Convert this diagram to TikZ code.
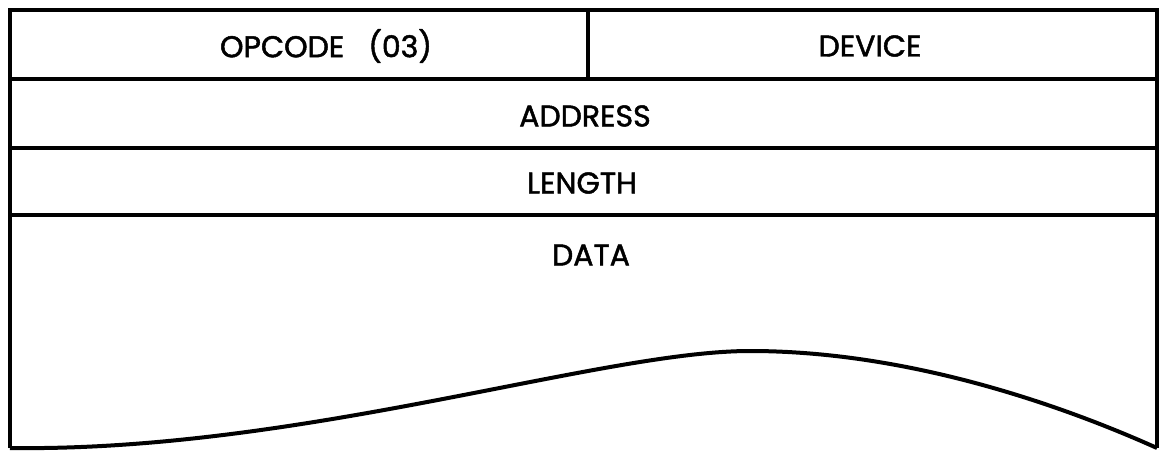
\documentclass[tikz,border=0pt]{standalone}
\usepackage{fontspec}
\setmainfont[FakeBold=1.6]{Poppins}
\usetikzlibrary{positioning}

\tikzset{
    field/.style={font=\fontsize{30}{33}\selectfont, inner sep=0pt},
    rule/.style={line width=3.5pt}
}

\begin{document}
\begin{tikzpicture}[x=1pt, y=-1pt]

    \useasboundingbox (0,0) rectangle (1160,452);

    % Outer frame
    \draw[rule, line join=miter] (10,448) -- (10,10) -- (1157,10) -- (1157,448);

    % Row dividers
    \draw[rule] (10,79) -- (1157,79);
    \draw[rule] (10,148) -- (1157,148);
    \draw[rule] (10,215) -- (1157,215);

    % Divider in the top row
    \draw[rule] (588,10) -- (588,79);

    % Torn bottom edge of the data area
    \draw[rule, line width=4pt] (10,448) .. controls (300,452) and (600,351) .. (750,351)
        .. controls (900,351) and (1050,400) .. (1157,448);

    % Field labels
    \node[field] (opcode) at (326,46) {OPCODE\hspace{0.8em}(03)};
    \node[field] (device) at (870,46) {DEVICE};
    \node[field] (address) at (585,116) {ADDRESS};
    \node[field] (length) at (582,183) {LENGTH};
    \node[field] (data) at (591,255) {DATA};

\end{tikzpicture}
\end{document}
